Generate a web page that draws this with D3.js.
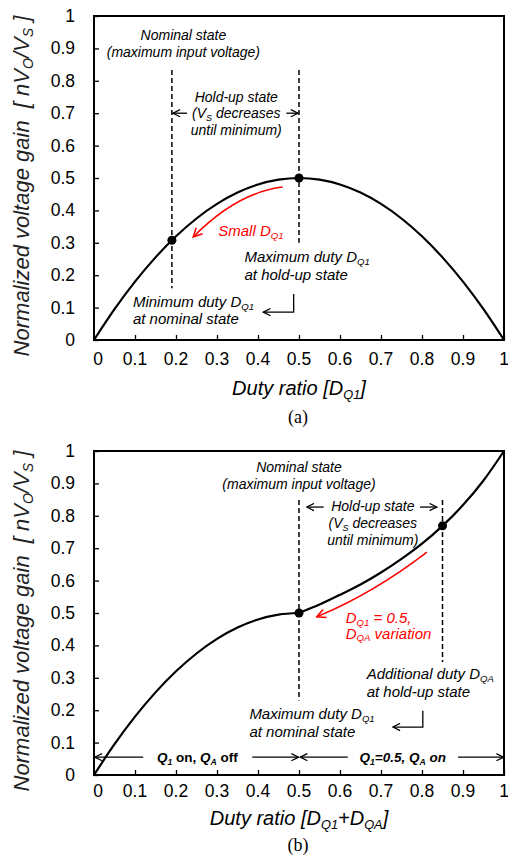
<!DOCTYPE html>
<html>
<head>
<meta charset="utf-8">
<script src="https://cdn.jsdelivr.net/npm/d3@7"></script>
<style>
  body { margin: 0; background: #fff; }
  svg text { font-family: "Liberation Sans", Arial, sans-serif; white-space: pre; }
</style>
</head>
<body>
<script>
// curve values
var dutyTop = [0, 0.05, 0.1, 0.15, 0.2, 0.25, 0.3, 0.35, 0.4, 0.45, 0.5, 0.55, 0.6, 0.65, 0.7, 0.75, 0.8, 0.85, 0.9, 0.95, 1];
var gainTop = [0, 0.095, 0.18, 0.255, 0.32, 0.375, 0.42, 0.455, 0.48, 0.495, 0.5, 0.495, 0.48, 0.455, 0.42, 0.375, 0.32, 0.255, 0.18, 0.095, 0];

var dutyBotA = [0, 0.05, 0.1, 0.15, 0.2, 0.25, 0.3, 0.35, 0.4, 0.45, 0.5];
var gainBotA = [0, 0.095, 0.18, 0.255, 0.32, 0.375, 0.42, 0.455, 0.48, 0.495, 0.5];
var dutyBotB = [0.5, 0.55, 0.6, 0.65, 0.7, 0.75, 0.8, 0.85, 0.9, 0.95, 1];
var gainBotB = [0.5, 0.526, 0.556, 0.588, 0.625, 0.667, 0.714, 0.769, 0.833, 0.909, 1];

// marked operating points
var dotDutyTop = [0.19, 0.5];
var dotGainTop = [0.308, 0.5];
var dotDutyBot = [0.5, 0.85];
var dotGainBot = [0.5, 0.769];

// dashed markers: duty, top gain, bottom gain
var dashDutyTop = [0.19, 0.5];
var dashHiTop = [0.833, 0.833];
var dashLoTop = [0.16, 0.30];
var dashDutyBot = [0.5, 0.85];
var dashHiBot = [0.849, 0.849];
var dashLoBot = [0.23, 0.349];

var tickValues = [0, 0.1, 0.2, 0.3, 0.4, 0.5, 0.6, 0.7, 0.8, 0.9, 1];
var tickLabels = ["0", "0.1", "0.2", "0.3", "0.4", "0.5", "0.6", "0.7", "0.8", "0.9", "1"];

var W = 508, H = 863;
var svg = d3.select("body").append("svg").attr("width", W).attr("height", H);
svg.append("rect").attr("width", W).attr("height", H).attr("fill", "#fff");

var defs = svg.append("defs");
function marker(id, color, size) {
  defs.append("marker")
    .attr("id", id)
    .attr("viewBox", "0 0 10 10")
    .attr("refX", 9).attr("refY", 5)
    .attr("markerWidth", size).attr("markerHeight", size)
    .attr("markerUnits", "userSpaceOnUse")
    .attr("orient", "auto")
    .append("path")
    .attr("d", "M1,1 L9,5 L1,9")
    .attr("fill", "none")
    .attr("stroke", color)
    .attr("stroke-width", 1.4);
}
marker("hk", "#000", 9);
marker("hr", "#f00", 11);

// text with subscripts: parts = [[text], [text, "sub"], ...]
function rich(g, x, y, parts, size, opts) {
  opts = opts || {};
  var t = g.append("text")
    .attr("x", x).attr("y", y)
    .attr("font-size", size)
    .attr("font-style", opts.style || "italic")
    .attr("font-weight", opts.weight || "normal")
    .attr("fill", opts.color || "#000")
    .attr("text-anchor", opts.anchor || "start");
  if (opts.transform) t.attr("transform", opts.transform);
  var shift = 0;
  parts.forEach(function(p) {
    var s = t.append("tspan").text(p[0]);
    if (p[1] === "sub") {
      var d = size * 0.18;
      s.attr("font-size", size * 0.64).attr("dy", d - shift);
      shift = d;
    } else {
      if (shift) s.attr("dy", -shift);
      shift = 0;
    }
    if (p[2]) s.attr("font-style", p[2]);
  });
  return t;
}

function panel(cfg) {
  var x = d3.scaleLinear().domain([0, 1]).range([94, 504]);
  var y = d3.scaleLinear().domain([0, 1]).range([cfg.bottom, cfg.bottom - 324]);
  var g = svg.append("g");

  // ticks inside the frame
  g.append("g")
    .attr("transform", "translate(0," + cfg.bottom + ")")
    .call(d3.axisBottom(x).tickValues(tickValues).tickSize(-5).tickFormat(""))
    .call(function(a) { a.select(".domain").remove(); a.selectAll("line").attr("stroke-width", 1.3); });
  g.append("g")
    .attr("transform", "translate(94,0)")
    .call(d3.axisLeft(y).tickValues(tickValues).tickSize(-5).tickFormat(""))
    .call(function(a) { a.select(".domain").remove(); a.selectAll("line").attr("stroke-width", 1.3); });

  g.selectAll(".xl").data(tickValues).enter().append("text")
    .attr("x", function(d, i) { return x(d) + (i === 0 ? 4 : 0); })
    .attr("y", cfg.bottom + cfg.tickBase)
    .attr("text-anchor", "middle")
    .attr("font-size", 17.5)
    .text(function(d, i) { return tickLabels[i]; });
  g.selectAll(".yl").data(tickValues).enter().append("text")
    .attr("x", 75)
    .attr("y", function(d) { return y(d) + 6; })
    .attr("text-anchor", "end")
    .attr("font-size", 17.5)
    .text(function(d, i) { return tickLabels[i]; });

  g.append("rect")
    .attr("x", x(0)).attr("y", y(1))
    .attr("width", x(1) - x(0)).attr("height", y(0) - y(1))
    .attr("fill", "none").attr("stroke", "#000").attr("stroke-width", 2);

  // dashed markers
  cfg.dashDuty.forEach(function(d, i) {
    g.append("line")
      .attr("x1", x(d)).attr("x2", x(d))
      .attr("y1", y(cfg.dashHi[i])).attr("y2", y(cfg.dashLo[i]))
      .attr("stroke", "#000").attr("stroke-width", 1.5)
      .attr("stroke-dasharray", "5,3");
  });

  var line = d3.line()
    .x(function(d) { return x(d[0]); })
    .y(function(d) { return y(d[1]); })
    .curve(d3.curveMonotoneX);
  cfg.series.forEach(function(s) {
    g.append("path")
      .datum(d3.zip(s[0], s[1]))
      .attr("d", line)
      .attr("fill", "none").attr("stroke", "#000").attr("stroke-width", 2.2);
  });

  g.selectAll(".dot").data(d3.zip(cfg.dotDuty, cfg.dotGain)).enter().append("circle")
    .attr("cx", function(d) { return x(d[0]); })
    .attr("cy", function(d) { return y(d[1]); })
    .attr("r", 4.5).attr("fill", "#000");

  // axis titles
  var midY = cfg.bottom - 162 + cfg.titleOff;
  rich(g, 0, 0, [["Normalized voltage gain  [ nV"], ["O", "sub"], ["/V"], ["S", "sub"], [" ]"]], 22,
    { anchor: "middle", color: "#222", transform: "translate(29," + midY + ") rotate(-90)" });
  rich(g, 299, cfg.bottom + cfg.xtitle, cfg.xtitleParts, 20, { anchor: "middle" });
  g.append("text")
    .attr("x", 298).attr("y", cfg.bottom + cfg.caption)
    .attr("text-anchor", "middle")
    .style("font-family", "'Liberation Serif', 'Times New Roman', serif")
    .attr("font-size", 18)
    .text(cfg.captionText);

  return { g: g, x: x, y: y };
}

function arrow(g, x1, y1, x2, y2, id) {
  g.append("line")
    .attr("x1", x1).attr("y1", y1).attr("x2", x2).attr("y2", y2)
    .attr("stroke", "#000").attr("stroke-width", 1.3)
    .attr("marker-end", "url(#" + id + ")");
}

function curvedArrow(p, a, c, b) {
  var path = d3.path();
  path.moveTo(p.x(a[0]), p.y(a[1]));
  path.quadraticCurveTo(p.x(c[0]), p.y(c[1]), p.x(b[0]), p.y(b[1]));
  p.g.append("path")
    .attr("d", path.toString())
    .attr("fill", "none").attr("stroke", "#f00").attr("stroke-width", 1.5)
    .attr("marker-end", "url(#hr)");
}

function bentArrow(p, xv, yTop, yBot, xEnd) {
  p.g.append("path")
    .attr("d", "M" + p.x(xv) + "," + p.y(yTop) + "V" + p.y(yBot) + "H" + p.x(xEnd))
    .attr("fill", "none").attr("stroke", "#000").attr("stroke-width", 1.3)
    .attr("marker-end", "url(#hk)");
}

// ---------- (a) ----------
var panelA = panel({
  bottom: 340, titleOff: 8, tickBase: 25, xtitle: 55, caption: 83, captionText: "(a)",
  xtitleParts: [["Duty ratio [D"], ["Q1", "sub"], ["]"]],
  series: [[dutyTop, gainTop]],
  dotDuty: dotDutyTop, dotGain: dotGainTop,
  dashDuty: dashDutyTop, dashHi: dashHiTop, dashLo: dashLoTop
});
(function(p) {
  var g = p.g, x = p.x, y = p.y;
  rich(g, x(0.218), y(0.926), [["Nominal state"]], 14, { anchor: "middle" });
  rich(g, x(0.218), y(0.873), [["(maximum input voltage)"]], 14, { anchor: "middle" });
  rich(g, x(0.347), y(0.735), [["Hold-up state"]], 14, { anchor: "middle" });
  rich(g, x(0.347), y(0.685), [["(V"], ["S", "sub"], [" decreases"]], 14, { anchor: "middle" });
  rich(g, x(0.347), y(0.634), [["until minimum)"]], 14, { anchor: "middle" });
  arrow(g, x(0.227), y(0.70), x(0.19) + 1, y(0.70), "hk");
  arrow(g, x(0.469), y(0.70), x(0.5) - 1, y(0.70), "hk");
  curvedArrow(p, [0.46, 0.472], [0.349, 0.455], [0.242, 0.318]);
  rich(g, x(0.303), y(0.321), [["Small D"], ["Q1", "sub"]], 15, { color: "#f00" });
  rich(g, x(0.367), y(0.241), [["Maximum duty D"], ["Q1", "sub"]], 15);
  rich(g, x(0.367), y(0.185), [["at hold-up state"]], 15);
  rich(g, x(0.095), y(0.102), [["Minimum duty D"], ["Q1", "sub"]], 15);
  rich(g, x(0.095), y(0.049), [["at nominal state"]], 15);
  bentArrow(p, 0.487, 0.142, 0.086, 0.413);
})(panelA);

// ---------- (b) ----------
var panelB = panel({
  bottom: 775, titleOff: 8, tickBase: 22, xtitle: 50, caption: 76, captionText: "(b)",
  xtitleParts: [["Duty ratio [D"], ["Q1", "sub"], ["+D"], ["QA", "sub"], ["]"]],
  series: [[dutyBotA, gainBotA], [dutyBotB, gainBotB]],
  dotDuty: dotDutyBot, dotGain: dotGainBot,
  dashDuty: dashDutyBot, dashHi: dashHiBot, dashLo: dashLoBot
});
(function(p) {
  var g = p.g, x = p.x, y = p.y;
  rich(g, x(0.5), y(0.935), [["Nominal state"]], 14, { anchor: "middle" });
  rich(g, x(0.5), y(0.883), [["(maximum input voltage)"]], 14, { anchor: "middle" });
  rich(g, x(0.68), y(0.815), [["Hold-up state"]], 14, { anchor: "middle" });
  rich(g, x(0.68), y(0.762), [["(V"], ["S", "sub"], [" decreases"]], 14, { anchor: "middle" });
  rich(g, x(0.68), y(0.711), [["until minimum)"]], 14, { anchor: "middle" });
  arrow(g, x(0.56), y(0.827), x(0.519), y(0.827), "hk");
  arrow(g, x(0.795), y(0.827), x(0.836), y(0.827), "hk");
  curvedArrow(p, [0.812, 0.688], [0.683, 0.562], [0.543, 0.488]);
  rich(g, x(0.614), y(0.469), [["D"], ["Q1", "sub"], [" = 0.5,"]], 15, { color: "#f00" });
  rich(g, x(0.614), y(0.421), [["D"], ["QA", "sub"], [" variation"]], 15, { color: "#f00" });
  rich(g, x(0.665), y(0.296), [["Additional duty D"], ["QA", "sub"]], 15);
  rich(g, x(0.665), y(0.241), [["at hold-up state"]], 15);
  rich(g, x(0.379), y(0.173), [["Maximum duty D"], ["Q1", "sub"]], 15);
  rich(g, x(0.379), y(0.117), [["at nominal state"]], 15);
  bentArrow(p, 0.802, 0.198, 0.148, 0.729);

  // switching intervals along the bottom
  var ry = y(0.055);
  arrow(g, x(0.12), ry, x(0.002), ry, "hk");
  arrow(g, x(0.386), ry, x(0.499), ry, "hk");
  rich(g, x(0.252), ry + 5, [["Q", "", "italic"], ["1", "sub", "italic"], [" on, ", "", "normal"], ["Q", "", "italic"], ["A", "sub", "italic"], [" off", "", "normal"]], 13.5, { weight: "bold", style: "normal", anchor: "middle" });
  arrow(g, x(0.619), ry, x(0.503), ry, "hk");
  arrow(g, x(0.888), ry, x(0.999), ry, "hk");
  rich(g, x(0.753), ry + 5, [["Q"], ["1", "sub"], ["=0.5, Q"], ["A", "sub"], [" on"]], 13.5, { weight: "bold", anchor: "middle" });
})(panelB);
</script>
</body>
</html>
